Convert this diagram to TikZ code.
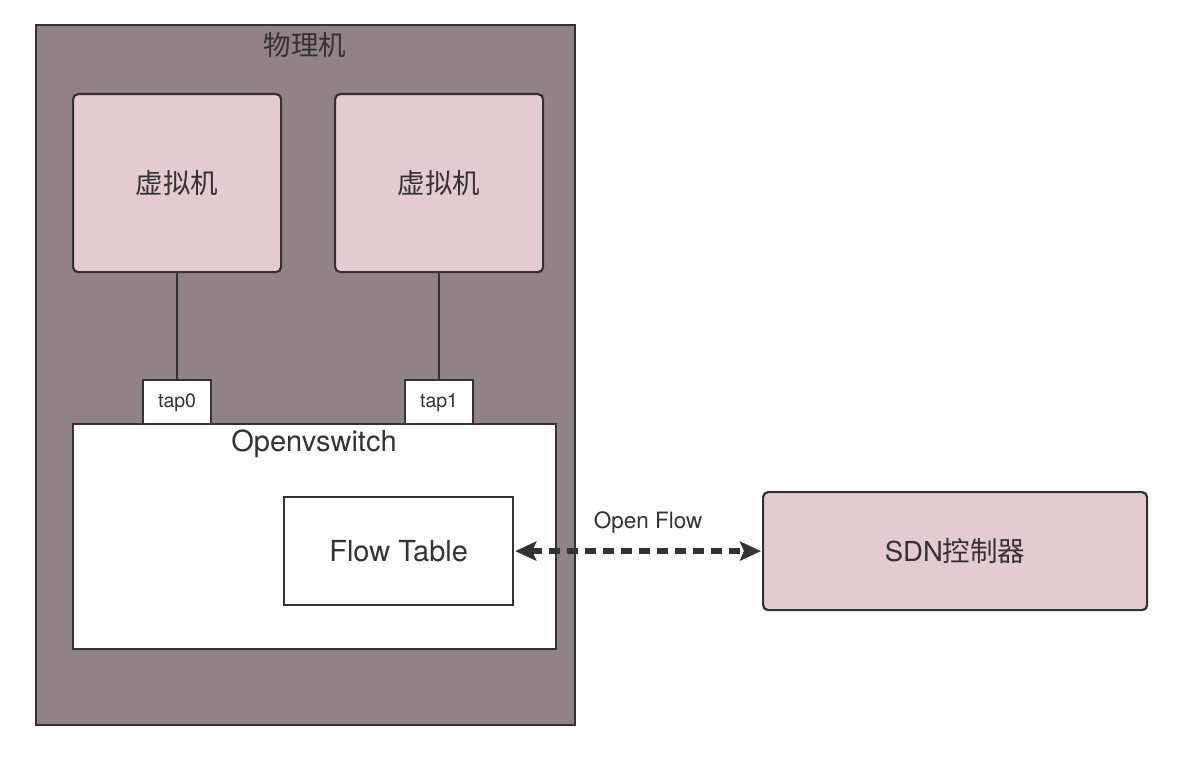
\documentclass[tikz,border=0pt]{standalone}
\usepackage{fontspec}
\setmainfont{TeX Gyre Heros}
\newfontfamily\cjk{Noto Sans CJK SC}
\usetikzlibrary{arrows.meta}
\definecolor{hostc}{HTML}{918286}
\definecolor{pinkc}{HTML}{E4CBD0}
\definecolor{linec}{HTML}{333333}
\begin{document}
\begin{tikzpicture}[x=1pt,y=-1pt,
  box/.style={draw=linec,line width=2.2pt,inner sep=0pt,anchor=north west},
  txt/.style={text=linec,inner sep=0pt},
  link/.style={draw=linec,line width=2pt}]
\useasboundingbox (0,0) rectangle (1177,765);
\node[box,fill=hostc,minimum width=539pt,minimum height=700pt] (host) at (35,24) {};
\node[txt,font=\cjk\fontsize{27.5}{30}\selectfont] (hostlbl) at (305,45) {物理机};
\node[box,fill=pinkc,rounded corners=5pt,minimum width=208pt,minimum height=178pt] (vm0) at (72,93) {};
\node[txt,font=\cjk\fontsize{27.5}{30}\selectfont] at (vm0.center) {虚拟机};
\node[box,fill=pinkc,rounded corners=5pt,minimum width=208pt,minimum height=178pt] (vm1) at (334,93) {};
\node[txt,font=\cjk\fontsize{27.5}{30}\selectfont] at (vm1.center) {虚拟机};
\node[box,fill=white,minimum width=68pt,minimum height=44pt] (tap0) at (142,379) {};
\node[txt,font=\fontsize{19.5}{22}\selectfont] at ([yshift=-1pt]tap0.center) {tap0};
\node[box,fill=white,minimum width=68pt,minimum height=44pt] (tap1) at (404,379) {};
\node[txt,font=\fontsize{19.5}{22}\selectfont] at ([yshift=-1pt]tap1.center) {tap1};
\node[box,fill=white,minimum width=483pt,minimum height=225pt] (ovs) at (72,423) {};
\node[txt,font=\fontsize{29}{32}\selectfont] (ovslbl) at (314,444) {Openvswitch};
\node[box,fill=white,minimum width=229pt,minimum height=108pt] (ft) at (283,496) {};
\node[txt,font=\fontsize{29}{32}\selectfont] at (ft.center) {Flow Table};
\node[box,fill=pinkc,rounded corners=5pt,minimum width=384pt,minimum height=118pt] (sdn) at (762,491) {};
\node[txt,font=\fontsize{27.5}{30}\selectfont] at (sdn.center) {SDN{\cjk 控制器}};
\draw[link] (vm0.south) -- (tap0.north);
\draw[link] (vm1.south) -- (tap1.north);
\draw[draw=linec,line width=6pt,dash pattern=on 11pt off 7pt,
  {Stealth[length=21pt,width=19pt,inset=4pt]}-{Stealth[length=21pt,width=19pt,inset=4pt]}]
  ([xshift=1pt]ft.east) -- node[above=15pt,xshift=10pt,txt,font=\fontsize{22.5}{26}\selectfont] {Open Flow} ([xshift=-1pt]sdn.west |- ft.east);
\end{tikzpicture}
\end{document}
